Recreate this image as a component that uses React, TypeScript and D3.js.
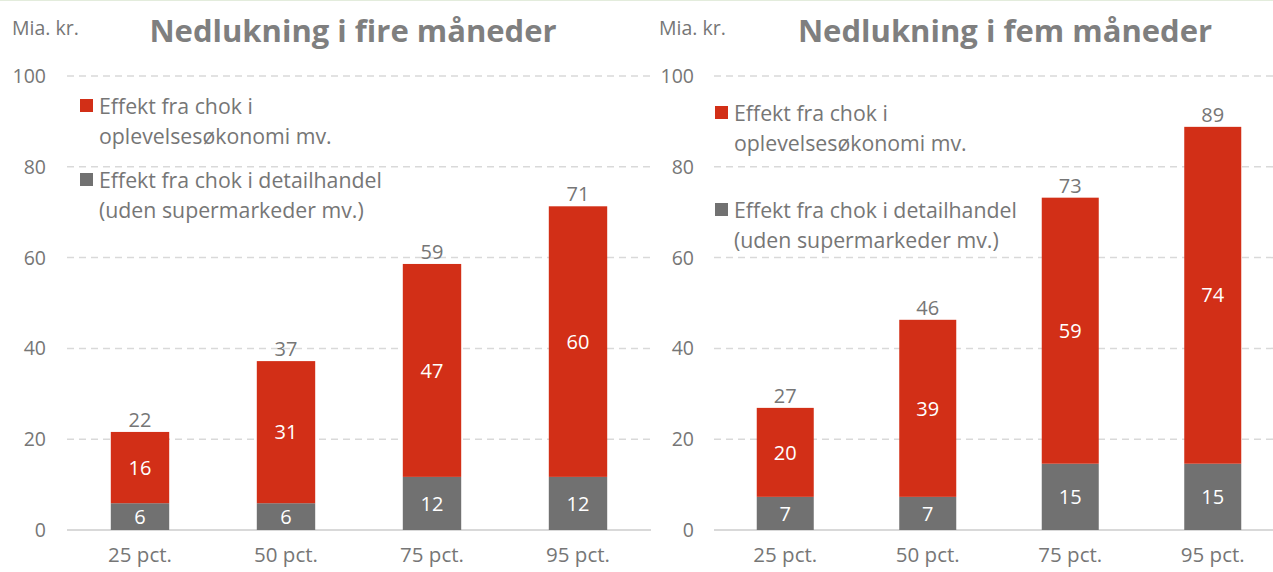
import React from "react";
import * as d3 from "d3";

const W = 1273;
const H = 572;

const CATEGORIES = ["25 pct.", "50 pct.", "75 pct.", "95 pct."];
const Y_TICKS = [0, 20, 40, 60, 80, 100];

// Nedlukning i fire måneder
const FOUR_RETAIL = [5.9, 5.9, 11.7, 11.7];
const FOUR_EXPERIENCE = [15.7, 31.3, 46.9, 59.6];

// Nedlukning i fem måneder
const FIVE_RETAIL = [7.3, 7.3, 14.6, 14.6];
const FIVE_EXPERIENCE = [19.6, 39.0, 58.6, 74.2];

const LEGEND_RED = ["Effekt fra chok i", "oplevelsesøkonomi mv."];
const LEGEND_GREY = ["Effekt fra chok i detailhandel", "(uden supermarkeder mv.)"];

const RED = "#d22f17";
const GREY = "#717171";
const TXT = "#767676";
const GRID = "#d9d9d9";
const FONT = "'Open Sans', sans-serif";

type PanelProps = {
  title: string;
  retail: number[];
  experience: number[];
  x0: number;      // left edge of plot area
  bandW: number;   // width of one category band
  gridEnd: number;
  tickX: number;   // right edge of y tick labels
  unitX: number;
  titleX: number;
  legendX: number;
  legendY: [number, number];
};

function Panel(p: PanelProps) {
  const y = d3.scaleLinear().domain([0, 100]).range([530, 76]);
  const x = d3.scaleBand<string>()
    .domain(CATEGORIES)
    .range([p.x0, p.x0 + p.bandW * CATEGORIES.length])
    .paddingInner(0.6)
    .paddingOuter(0.3);
  const bw = x.bandwidth();

  return (
    <g fontFamily={FONT}>
      {/* grid */}
      {Y_TICKS.map(t => (
        <g key={t}>
          <line
            x1={p.x0} x2={p.gridEnd} y1={y(t)} y2={y(t)}
            stroke={GRID}
            strokeWidth={t === 0 ? 2 : 1.5}
            strokeDasharray={t === 0 ? undefined : "7,5"}
          />
          <text x={p.tickX} y={y(t)} dy="0.36em" textAnchor="end" fontSize={19.5} fill={TXT}>{t}</text>
        </g>
      ))}

      {/* bars */}
      {CATEGORIES.map((c, i) => {
        const g = p.retail[i];
        const r = p.experience[i];
        const tot = g + r;
        const bx = x(c)!;
        return (
          <g key={c}>
            <rect x={bx} y={y(g)} width={bw} height={y(0) - y(g)} fill={GREY} />
            <rect x={bx} y={y(tot)} width={bw} height={y(g) - y(tot)} fill={RED} />
            <text x={bx + bw / 2} y={(y(0) + y(g)) / 2} dy="0.36em" textAnchor="middle" fontSize={20} fill="#fff">
              {Math.round(g)}
            </text>
            <text x={bx + bw / 2} y={(y(g) + y(tot)) / 2} dy="0.36em" textAnchor="middle" fontSize={20} fill="#fff">
              {Math.round(r)}
            </text>
            <text x={bx + bw / 2} y={y(tot) - 5} textAnchor="middle" fontSize={20} fill={TXT}>
              {Math.round(tot)}
            </text>
            <text x={bx + bw / 2} y={562} textAnchor="middle" fontSize={20.5} fill={TXT}>{c}</text>
          </g>
        );
      })}

      {/* legend */}
      {[{ c: RED, lines: LEGEND_RED, y0: p.legendY[0] }, { c: GREY, lines: LEGEND_GREY, y0: p.legendY[1] }].map(l => (
        <g key={l.c}>
          <rect x={p.legendX} y={l.y0 - 7} width={13} height={13} fill={l.c} />
          {l.lines.map((s, j) => (
            <text key={j} x={p.legendX + 19} y={l.y0 + j * 30} dy="0.36em" fontSize={21.3} fill={TXT}>{s}</text>
          ))}
        </g>
      ))}

      {/* unit + title */}
      <text x={p.unitX} y={35} fontSize={19.5} fill={TXT}>Mia. kr.</text>
      <text x={p.titleX} y={42} textAnchor="middle" fontSize={31} fontWeight={700} fill="#7f7f7f">{p.title}</text>
    </g>
  );
}

export default function App() {
  return (
    <svg
      width={W}
      height={H}
      viewBox={`0 0 ${W} ${H}`}
      style={{ position: "absolute", left: 0, top: 0, background: "#fff", display: "block" }}
    >
      <rect width={W} height={H} fill="#fff" />
      <line x1={0} x2={W} y1={0.5} y2={0.5} stroke="#e3ecdc" strokeWidth={1} />
      <Panel
        title="Nedlukning i fire måneder"
        retail={FOUR_RETAIL}
        experience={FOUR_EXPERIENCE}
        x0={67} bandW={146} gridEnd={651}
        tickX={46} unitX={12} titleX={353}
        legendX={80} legendY={[106, 180]}
      />
      <Panel
        title="Nedlukning i fem måneder"
        retail={FIVE_RETAIL}
        experience={FIVE_EXPERIENCE}
        x0={714} bandW={142.5} gridEnd={W}
        tickX={694} unitX={659} titleX={1005}
        legendX={715} legendY={[113, 210]}
      />
    </svg>
  );
}
